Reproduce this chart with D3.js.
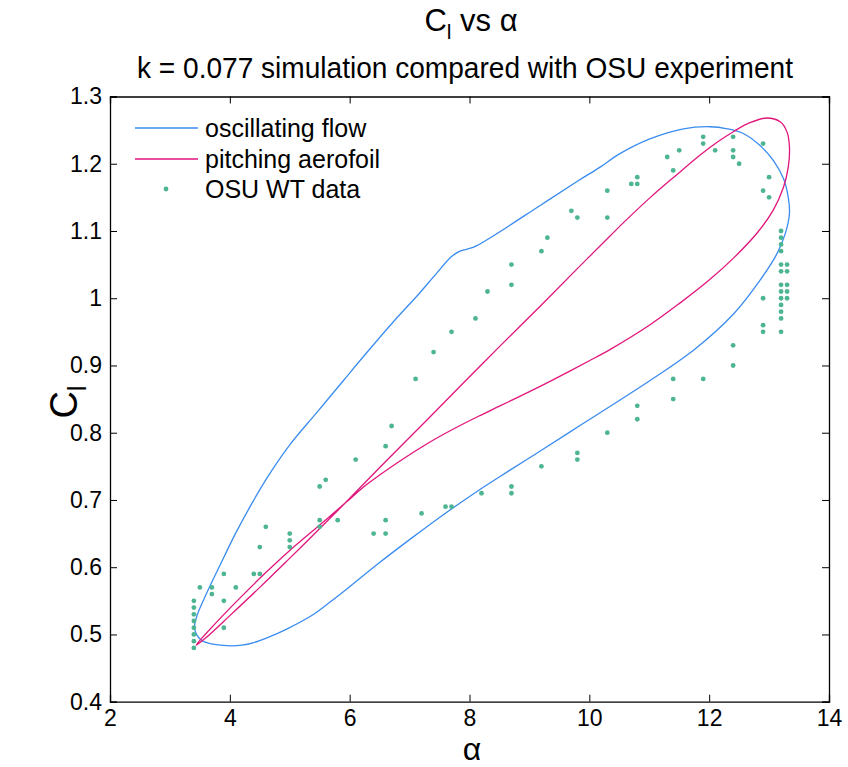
<!DOCTYPE html>
<html><head><meta charset="utf-8">
<script src="https://cdn.jsdelivr.net/npm/d3@7"></script>
<style>body{margin:0;background:#fff}svg{display:block}text{font-family:"Liberation Sans",Arial,sans-serif}</style>
</head><body>
<svg id="c" width="848" height="767"></svg>
<script>
const xTicks = [2,4,6,8,10,12,14];
const yTicks = [0.4,0.5,0.6,0.7,0.8,0.9,1.0,1.1,1.2,1.3];
const yTickLabels = ["0.4","0.5","0.6","0.7","0.8","0.9","1","1.1","1.2","1.3"];
const seriesNames = ["oscillating flow","pitching aerofoil","OSU WT data"];

// oscillating flow loop [alpha, Cl]
const oscFlow = [
 [3.41,0.511],[3.45,0.499],[3.55,0.490],[3.70,0.486],[3.85,0.484],[4.03,0.483],[4.20,0.484],
 [4.40,0.488],[4.62,0.495],[4.95,0.508],[5.40,0.530],[5.70,0.550],[6.00,0.571],[6.50,0.607],
 [7.00,0.641],[7.50,0.674],[8.18,0.716],[8.51,0.735],[9.20,0.774],[9.85,0.811],[10.50,0.848],
 [11.07,0.881],[11.77,0.925],[12.41,0.977],[12.85,1.027],[13.13,1.066],[13.27,1.096],[13.34,1.126],
 [13.32,1.150],[13.24,1.178],[13.07,1.205],[12.85,1.227],[12.57,1.245],[12.30,1.252],[12.02,1.255],
 [11.57,1.252],[11.01,1.237],[10.51,1.215],[10.18,1.195],[9.82,1.175],[9.18,1.138],[8.40,1.093],
 [8.07,1.076],[7.84,1.070],[7.70,1.062],[7.45,1.037],[7.15,1.006],[6.73,0.965],[6.17,0.907],
 [5.90,0.878],[5.45,0.830],[5.00,0.782],[4.60,0.730],[4.35,0.692],[4.10,0.651],[3.89,0.613],
 [3.70,0.578],[3.56,0.551],[3.46,0.530]
];

// pitching aerofoil loop [alpha, Cl]
const pitching = [
 [3.44,0.484],[3.60,0.495],[4.00,0.528],[4.50,0.570],[4.95,0.609],[5.45,0.653],[5.92,0.695],
 [6.51,0.749],[7.29,0.819],[7.93,0.877],[8.50,0.928],[9.20,0.990],[9.80,1.044],[10.35,1.093],
 [10.60,1.115],[11.02,1.150],[11.45,1.183],[11.85,1.213],[12.15,1.233],[12.41,1.248],[12.68,1.261],
 [12.96,1.268],[13.19,1.262],[13.30,1.247],[13.34,1.225],[13.32,1.195],[13.24,1.165],[13.07,1.131],
 [12.80,1.097],[12.41,1.060],[12.00,1.027],[11.50,0.992],[11.02,0.961],[10.35,0.924],[10.00,0.907],
 [9.40,0.879],[9.00,0.861],[8.50,0.8395],[8.15,0.8245],[7.70,0.804],[7.30,0.784],[6.84,0.758],
 [6.30,0.724],[5.92,0.695],[5.45,0.659],[5.00,0.625],[4.60,0.592],[4.20,0.557],[3.85,0.525],
 [3.60,0.501],[3.47,0.488]
];

// OSU wind tunnel data
const osuAlpha = [
 3.4,3.4,3.4,3.4,3.4,3.4,3.4,3.4, 3.5, 3.7,3.7, 3.9,3.9,3.9, 4.1, 4.4, 4.5,4.5, 4.6,
 5.0,5.0,5.0, 5.5,5.5,5.5, 5.6, 5.8, 6.1, 6.4, 6.6,6.6,6.6, 6.7, 7.1, 7.2, 7.4, 7.6, 7.7,7.7,
 8.1, 8.2, 8.3, 8.7,8.7,8.7,8.7, 9.2,9.2, 9.3, 9.7, 9.8,9.8,9.8, 10.3,10.3,10.3, 10.7,
 10.8,10.8,10.8,10.8, 11.3, 11.4,11.4,11.4, 11.5, 11.9,11.9,11.9, 12.1, 12.4,12.4,12.4,12.4,12.4,
 12.5, 12.9,12.9,12.9,12.9,12.9, 13.0,13.0,
 13.2,13.2,13.2,13.2,13.2,13.2,13.2,13.2,13.2,13.2,13.2,13.2,13.2,
 13.3,13.3,13.3,13.3,13.3
];
const osuCl = [
 0.48,0.49,0.50,0.51,0.52,0.53,0.54,0.55, 0.57, 0.57,0.56, 0.59,0.55,0.51, 0.57, 0.59, 0.59,0.63, 0.66,
 0.65,0.64,0.63, 0.67,0.66,0.72, 0.73, 0.67, 0.76, 0.65, 0.67,0.65,0.78, 0.81, 0.88, 0.68, 0.92, 0.69, 0.69,0.95,
 0.97, 0.71, 1.01, 1.02,1.05,0.72,0.71, 1.07,0.75, 1.09, 1.13, 1.12,0.77,0.76, 1.16,1.12,0.80, 1.17,
 1.17,1.18,0.84,0.82, 1.21, 1.19,0.85,0.88, 1.22, 1.24,1.23,0.88, 1.22, 1.24,1.22,1.21,0.93,0.90,
 1.20, 1.23,1.16,1.00,0.96,0.95, 1.18,1.15,
 1.10,1.09,1.08,1.07,1.05,1.04,1.02,1.01,1.00,0.99,0.98,0.97,0.95,
 1.05,1.04,1.02,1.01,1.00
];

const colBlue = "#3a8cf0", colMag = "#e2157c", colDot = "#4db592";
const FONT = "'Liberation Sans',Arial,sans-serif";
const L = 110, R = 829, T = 96.5, B = 701.7;
const svg = d3.select("#c");
const x = d3.scaleLinear().domain([2,14]).range([L,R]);
const y = d3.scaleLinear().domain([0.4,1.3]).range([B,T]);

const g = svg.append("g");
const tl = 7;
const xb = g.append("g").attr("transform",`translate(0,${B})`)
  .call(d3.axisBottom(x).tickValues(xTicks).tickSize(-tl).tickPadding(8).tickFormat(d3.format("d")));
const xt = g.append("g").attr("transform",`translate(0,${T})`)
  .call(d3.axisTop(x).tickValues(xTicks).tickSize(-tl).tickFormat(""));
const yl = g.append("g").attr("transform",`translate(${L},0)`)
  .call(d3.axisLeft(y).tickValues(yTicks).tickSize(-tl).tickPadding(8).tickFormat((d,i)=>yTickLabels[i]));
const yr = g.append("g").attr("transform",`translate(${R},0)`)
  .call(d3.axisRight(y).tickValues(yTicks).tickSize(-tl).tickFormat(""));
[xb,xt,yl,yr].forEach(a=>{
  a.select(".domain").attr("stroke","#000").attr("stroke-width",1.3);
  a.selectAll(".tick line").attr("stroke","#000").attr("stroke-width",1);
  a.selectAll("text").attr("font-size",23).attr("fill","#000").attr("font-family",FONT);
});

const line = d3.line().x(d=>x(d[0])).y(d=>y(d[1])).curve(d3.curveCatmullRomClosed.alpha(0.5));
g.append("path").datum(oscFlow).attr("d",line).attr("fill","none").attr("stroke",colBlue).attr("stroke-width",1.3);
g.append("path").datum(pitching).attr("d",line).attr("fill","none").attr("stroke",colMag).attr("stroke-width",1.3);

g.selectAll("circle.osu").data(osuAlpha.map((a,i)=>[a,osuCl[i]])).join("circle")
  .attr("class","osu").attr("cx",d=>x(d[0])).attr("cy",d=>y(d[1])).attr("r",2.4).attr("fill",colDot);

// legend
const leg = g.append("g");
const legY = [128,159,189];
leg.append("line").attr("x1",135).attr("x2",198).attr("y1",legY[0]).attr("y2",legY[0]).attr("stroke",colBlue).attr("stroke-width",1.3);
leg.append("line").attr("x1",135).attr("x2",198).attr("y1",legY[1]).attr("y2",legY[1]).attr("stroke",colMag).attr("stroke-width",1.3);
leg.append("circle").attr("cx",166).attr("cy",legY[2]).attr("r",2.4).attr("fill",colDot);
seriesNames.forEach((n,i)=>{
  leg.append("text").attr("x",205).attr("y",legY[i]+9).attr("font-size",25).text(n);
});

// titles
const t1 = svg.append("text").attr("x",471).attr("y",31).attr("text-anchor","middle").attr("font-size",31);
t1.append("tspan").text("C");
t1.append("tspan").attr("font-size",21).attr("dy",8).text("l");
t1.append("tspan").attr("dy",-8).text(" vs α");
svg.append("text").attr("x",465).attr("y",78).attr("text-anchor","middle").attr("font-size",30)
  .attr("textLength",656).attr("lengthAdjust","spacingAndGlyphs")
  .text("k = 0.077 simulation compared with OSU experiment");
svg.append("text").attr("x",472).attr("y",760).attr("text-anchor","middle").attr("font-size",32).text("α");
const yt = svg.append("text").attr("transform","translate(77,402) rotate(-90)").attr("text-anchor","middle").attr("font-size",38);
yt.append("tspan").text("C");
yt.append("tspan").attr("font-size",26).attr("dy",9).text("l");
</script>
</body></html>
